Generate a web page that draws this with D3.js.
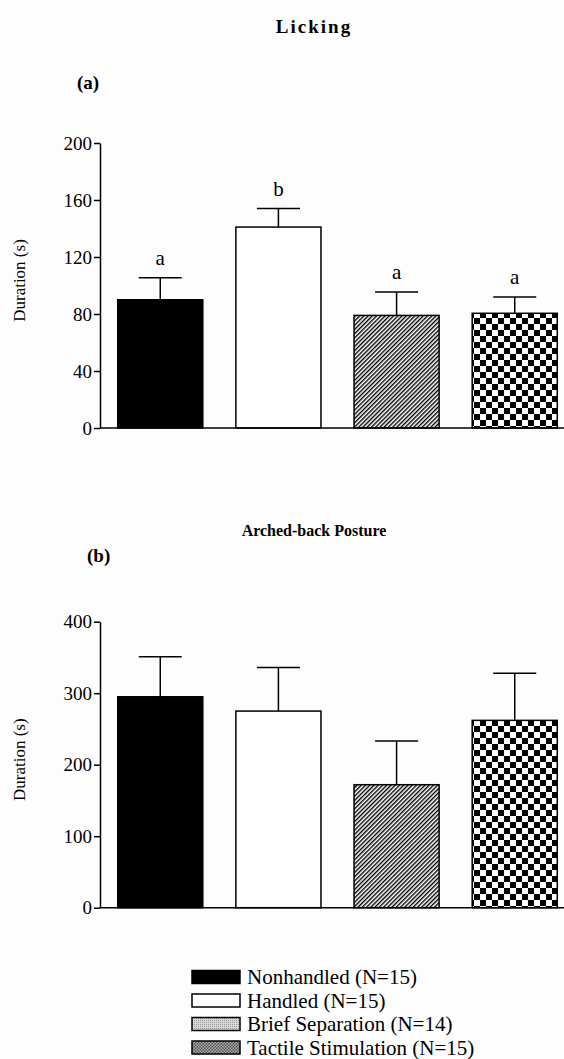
<!DOCTYPE html>
<html>
<head>
<meta charset="utf-8">
<script src="https://cdn.jsdelivr.net/npm/d3@7"></script>
<style>
  body { margin: 0; background: #fff; }
  svg text { font-family: "Liberation Serif", "Times New Roman", Times, serif; }
</style>
</head>
<body>
<svg id="drawing_region"></svg>
<script>
// groups in legend order
const groups = ['Nonhandled (N=15)', 'Handled (N=15)', 'Brief Separation  (N=14)', 'Tactile Stimulation (N=15)'];
const fills = ['black', 'white', 'url(#hatch)', 'url(#checker)'];
const legendFills = ['black', 'white', 'url(#grayDots)', 'url(#checkerSmall)'];

// (a) Licking
const lickingMean = [90, 141, 79, 80.5];
const lickingSem = [15.5, 13, 16.5, 11.5];
const lickingLetters = ['a', 'b', 'a', 'a'];
const lickingTicks = [0, 40, 80, 120, 160, 200];

// (b) Arched-back posture
const archedMean = [295, 275, 172, 262];
const archedSem = [56, 61, 61, 66];
const archedTicks = [0, 100, 200, 300, 400];

const SERIF = '"Liberation Serif", "Times New Roman", Times, serif';
const W = 564, H = 1059;
const svg = d3.select('#drawing_region').attr('width', W).attr('height', H)
    .attr('font-family', SERIF);
svg.append('rect').attr('width', W).attr('height', H).attr('fill', '#fdfdfd');

// patterns
const defs = svg.append('defs');
const hatch = defs.append('pattern').attr('id', 'hatch')
    .attr('patternUnits', 'userSpaceOnUse').attr('width', 3).attr('height', 3)
    .attr('patternTransform', 'rotate(45)');
hatch.append('rect').attr('width', 3).attr('height', 3).attr('fill', 'white');
hatch.append('rect').attr('width', 1.4).attr('height', 3).attr('fill', 'black');

const checker = defs.append('pattern').attr('id', 'checker')
    .attr('patternUnits', 'userSpaceOnUse').attr('width', 12).attr('height', 12);
checker.append('rect').attr('width', 12).attr('height', 12).attr('fill', 'white');
checker.append('rect').attr('width', 6).attr('height', 6).attr('fill', 'black');
checker.append('rect').attr('x', 6).attr('y', 6).attr('width', 6).attr('height', 6).attr('fill', 'black');

const checkerSmall = defs.append('pattern').attr('id', 'checkerSmall')
    .attr('patternUnits', 'userSpaceOnUse').attr('width', 3).attr('height', 3);
checkerSmall.append('rect').attr('width', 3).attr('height', 3).attr('fill', '#ddd');
checkerSmall.append('rect').attr('width', 1.5).attr('height', 1.5).attr('fill', '#222');
checkerSmall.append('rect').attr('x', 1.5).attr('y', 1.5).attr('width', 1.5).attr('height', 1.5).attr('fill', '#222');

const grayDots = defs.append('pattern').attr('id', 'grayDots')
    .attr('patternUnits', 'userSpaceOnUse').attr('width', 2).attr('height', 2);
grayDots.append('rect').attr('width', 2).attr('height', 2).attr('fill', '#d8d8d8');
grayDots.append('rect').attr('width', 1).attr('height', 1).attr('fill', '#999');

const xscale = d3.scaleBand()
    .domain(groups)
    .range([100, 575])
    .paddingInner(0.28)
    .paddingOuter(0.15);

function drawPanel(cfg) {
    const yscale = d3.scaleLinear().domain(cfg.domain).range([cfg.bottom, cfg.top]);
    const g = svg.append('g');

    // bars
    g.selectAll('rect.bar').data(cfg.mean).enter().append('rect')
        .attr('class', 'bar')
        .attr('x', (d, i) => xscale(groups[i]))
        .attr('y', d => yscale(d))
        .attr('width', xscale.bandwidth())
        .attr('height', d => yscale(0) - yscale(d))
        .attr('fill', (d, i) => fills[i])
        .attr('stroke', 'black')
        .attr('stroke-width', 1.5);

    // error bars (upper only)
    const capW = 43;
    const eb = g.selectAll('g.err').data(cfg.mean).enter().append('g').attr('class', 'err');
    eb.append('line')
        .attr('x1', (d, i) => xscale(groups[i]) + xscale.bandwidth() / 2)
        .attr('x2', (d, i) => xscale(groups[i]) + xscale.bandwidth() / 2)
        .attr('y1', d => yscale(d))
        .attr('y2', (d, i) => yscale(d + cfg.sem[i]))
        .attr('stroke', 'black').attr('stroke-width', 1.5);
    eb.append('line')
        .attr('x1', (d, i) => xscale(groups[i]) + xscale.bandwidth() / 2 - capW / 2)
        .attr('x2', (d, i) => xscale(groups[i]) + xscale.bandwidth() / 2 + capW / 2)
        .attr('y1', (d, i) => yscale(d + cfg.sem[i]))
        .attr('y2', (d, i) => yscale(d + cfg.sem[i]))
        .attr('stroke', 'black').attr('stroke-width', 1.5);

    if (cfg.letters) {
        g.selectAll('text.sig').data(cfg.letters).enter().append('text')
            .attr('class', 'sig')
            .attr('x', (d, i) => xscale(groups[i]) + xscale.bandwidth() / 2)
            .attr('y', (d, i) => yscale(cfg.mean[i] + cfg.sem[i]) - 13)
            .attr('text-anchor', 'middle')
            .attr('font-family', SERIF)
            .attr('font-size', 21)
            .text(d => d);
    }

    // axes
    const yaxis = d3.axisLeft(yscale).tickValues(cfg.ticks).tickSize(6).tickSizeOuter(0).tickPadding(2);
    const yg = g.append('g').attr('transform', 'translate(100,0)').call(yaxis);
    yg.attr('font-family', SERIF).attr('font-size', 19);
    yg.select('.domain').attr('stroke-width', 1.5);
    yg.selectAll('.tick line').attr('stroke-width', 1.5);
    yg.selectAll('.tick text').attr('fill', 'black');

    g.append('line')
        .attr('x1', 100).attr('x2', W)
        .attr('y1', yscale(0)).attr('y2', yscale(0))
        .attr('stroke', 'black').attr('stroke-width', 1.5);

    g.append('text')
        .attr('transform', `translate(25, ${(cfg.top + cfg.bottom) / 2 - 5}) rotate(-90)`)
        .attr('text-anchor', 'middle')
        .attr('font-family', SERIF)
        .attr('font-size', 17)
        .text('Duration (s)');

    g.append('text')
        .attr('x', 314).attr('y', cfg.titleY)
        .attr('text-anchor', 'middle')
        .attr('font-family', SERIF)
        .attr('font-weight', 'bold')
        .attr('font-size', cfg.titleSize)
        .attr('letter-spacing', cfg.titleSpacing)
        .text(cfg.title);

    g.append('text')
        .attr('x', cfg.tagX).attr('y', cfg.tagY)
        .attr('font-family', SERIF)
        .attr('font-weight', 'bold')
        .attr('font-size', 19)
        .text(cfg.tag);
}

drawPanel({
    domain: [0, 200], top: 143, bottom: 428,
    mean: lickingMean, sem: lickingSem, letters: lickingLetters, ticks: lickingTicks,
    title: 'Licking', titleY: 33, titleSize: 19, titleSpacing: 2,
    tag: '(a)', tagX: 77, tagY: 89
});

drawPanel({
    domain: [0, 400], top: 621.7, bottom: 907.7,
    mean: archedMean, sem: archedSem, letters: null, ticks: archedTicks,
    title: 'Arched-back Posture', titleY: 536, titleSize: 16, titleSpacing: 0,
    tag: '(b)', tagX: 87, tagY: 562
});

// legend
const legend = svg.append('g').attr('transform', 'translate(192, 977)');
const rows = legend.selectAll('g').data(groups).enter().append('g')
    .attr('transform', (d, i) => `translate(0, ${i * 23.5})`);
rows.append('rect')
    .attr('x', 0).attr('y', -6.5)
    .attr('width', 48).attr('height', 13)
    .attr('fill', (d, i) => legendFills[i])
    .attr('stroke', 'black').attr('stroke-width', 1.5);
rows.append('text')
    .attr('x', 55).attr('y', 7)
    .attr('font-family', SERIF)
    .attr('font-size', 21)
    .text(d => d);
</script>
</body>
</html>
